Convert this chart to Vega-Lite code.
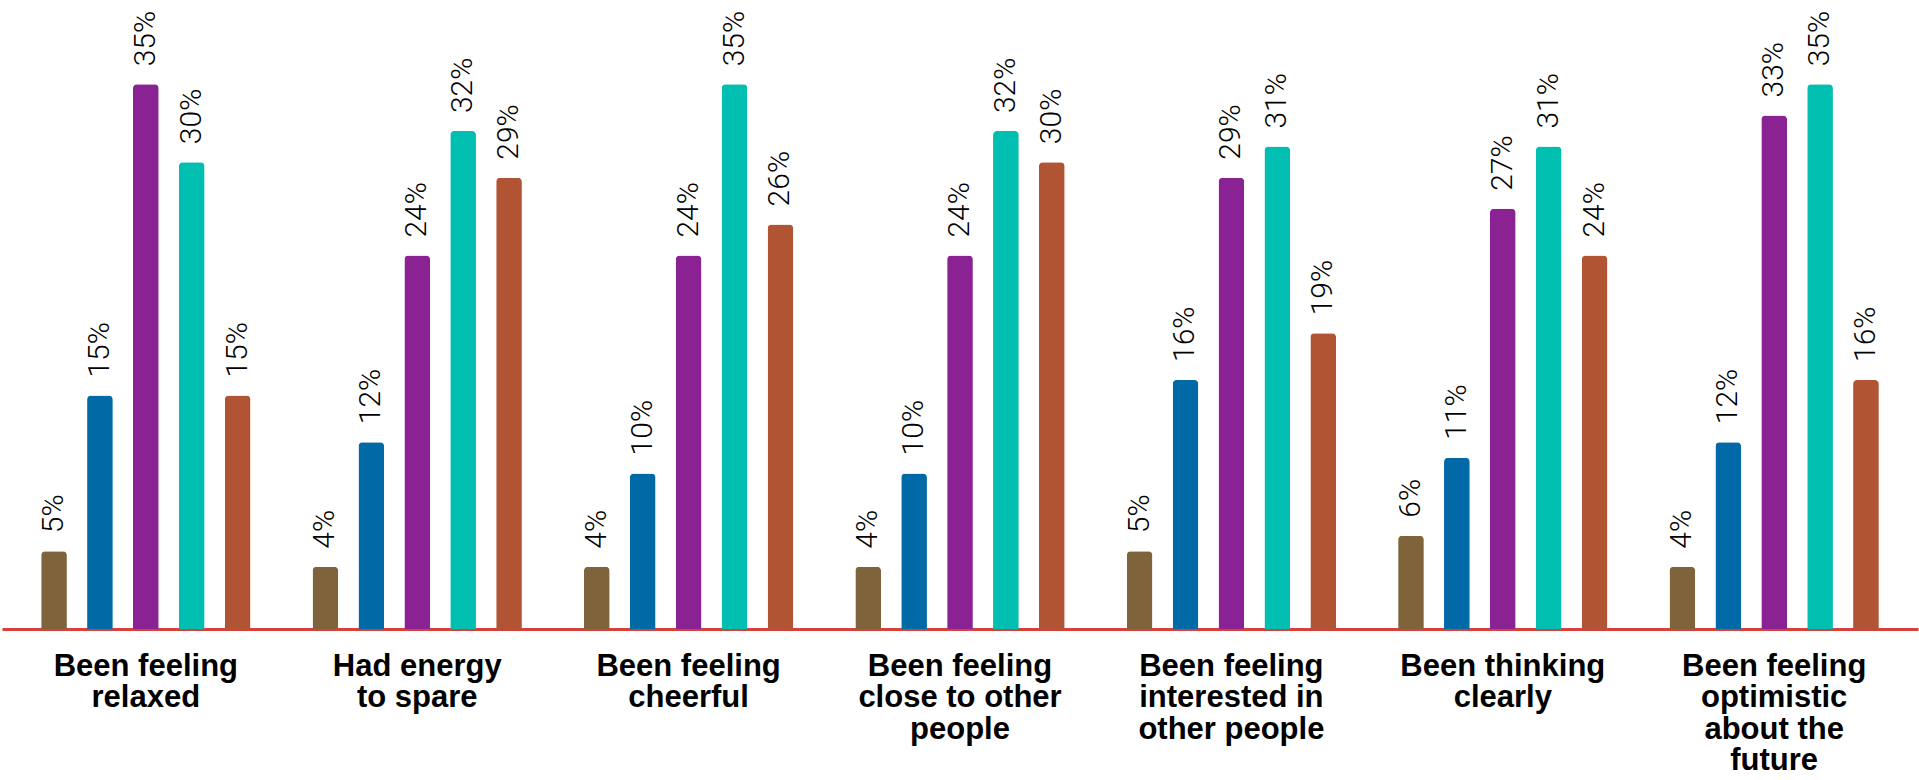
{
  "$schema": "https://vega.github.io/schema/vega-lite/v6.json",
  "width": 1916,
  "height": 629,
  "autosize": {"type": "none"},
  "padding": {"left": 2, "top": 0, "right": 1, "bottom": 151},
  "background": "white",
  "config": {"view": {"stroke": null}},
  "data": {
    "values": [
      {"item": "Been feeling|relaxed", "response": "Never", "share": 0.05},
      {"item": "Been feeling|relaxed", "response": "Rarely", "share": 0.15},
      {"item": "Been feeling|relaxed", "response": "Some of the time", "share": 0.35},
      {"item": "Been feeling|relaxed", "response": "Often", "share": 0.30},
      {"item": "Been feeling|relaxed", "response": "All of the time", "share": 0.15},
      {"item": "Had energy|to spare", "response": "Never", "share": 0.04},
      {"item": "Had energy|to spare", "response": "Rarely", "share": 0.12},
      {"item": "Had energy|to spare", "response": "Some of the time", "share": 0.24},
      {"item": "Had energy|to spare", "response": "Often", "share": 0.32},
      {"item": "Had energy|to spare", "response": "All of the time", "share": 0.29},
      {"item": "Been feeling|cheerful", "response": "Never", "share": 0.04},
      {"item": "Been feeling|cheerful", "response": "Rarely", "share": 0.10},
      {"item": "Been feeling|cheerful", "response": "Some of the time", "share": 0.24},
      {"item": "Been feeling|cheerful", "response": "Often", "share": 0.35},
      {"item": "Been feeling|cheerful", "response": "All of the time", "share": 0.26},
      {"item": "Been feeling|close to other|people", "response": "Never", "share": 0.04},
      {"item": "Been feeling|close to other|people", "response": "Rarely", "share": 0.10},
      {"item": "Been feeling|close to other|people", "response": "Some of the time", "share": 0.24},
      {"item": "Been feeling|close to other|people", "response": "Often", "share": 0.32},
      {"item": "Been feeling|close to other|people", "response": "All of the time", "share": 0.30},
      {"item": "Been feeling|interested in|other people", "response": "Never", "share": 0.05},
      {"item": "Been feeling|interested in|other people", "response": "Rarely", "share": 0.16},
      {"item": "Been feeling|interested in|other people", "response": "Some of the time", "share": 0.29},
      {"item": "Been feeling|interested in|other people", "response": "Often", "share": 0.31},
      {"item": "Been feeling|interested in|other people", "response": "All of the time", "share": 0.19},
      {"item": "Been thinking|clearly", "response": "Never", "share": 0.06},
      {"item": "Been thinking|clearly", "response": "Rarely", "share": 0.11},
      {"item": "Been thinking|clearly", "response": "Some of the time", "share": 0.27},
      {"item": "Been thinking|clearly", "response": "Often", "share": 0.31},
      {"item": "Been thinking|clearly", "response": "All of the time", "share": 0.24},
      {"item": "Been feeling|optimistic|about the|future", "response": "Never", "share": 0.04},
      {"item": "Been feeling|optimistic|about the|future", "response": "Rarely", "share": 0.12},
      {"item": "Been feeling|optimistic|about the|future", "response": "Some of the time", "share": 0.33},
      {"item": "Been feeling|optimistic|about the|future", "response": "Often", "share": 0.35},
      {"item": "Been feeling|optimistic|about the|future", "response": "All of the time", "share": 0.16}
    ]
  },
  "encoding": {
    "x": {
      "field": "item",
      "type": "nominal",
      "sort": null,
      "scale": {"paddingInner": 0, "paddingOuter": 0.03},
      "axis": {
        "title": null,
        "labelAngle": 0,
        "labelExpr": "split(datum.value, '|')",
        "labelFont": "Liberation Sans",
        "labelFontWeight": "bold",
        "labelFontSize": 31,
        "labelLineHeight": 31.5,
        "labelColor": "#000000",
        "labelPadding": 22,
        "labelLimit": 400,
        "ticks": false,
        "domainColor": "#d8413b",
        "domainWidth": 3,
        "domainOpacity": 1
      }
    },
    "xOffset": {
      "field": "response",
      "type": "nominal",
      "sort": null,
      "scale": {"paddingInner": 0.44, "paddingOuter": 0.676}
    },
    "y": {
      "field": "share",
      "type": "quantitative",
      "scale": {"domain": [0, 0.4042], "nice": false},
      "axis": null
    }
  },
  "layer": [
    {
      "mark": {"type": "bar", "cornerRadiusTopLeft": 4, "cornerRadiusTopRight": 4},
      "encoding": {
        "color": {
          "field": "response",
          "type": "nominal",
          "sort": null,
          "scale": {
            "domain": ["Never", "Rarely", "Some of the time", "Often", "All of the time"],
            "range": ["#7f633b", "#016aa6", "#8b2293", "#00bfb0", "#b15434"]
          },
          "legend": null
        }
      }
    },
    {
      "mark": {
        "type": "text",
        "angle": 270,
        "align": "left",
        "baseline": "middle",
        "dx": 18,
        "font": "Roboto",
        "fontWeight": 300,
        "fontSize": 30,
        "color": "#000000"
      },
      "encoding": {
        "text": {"field": "share", "type": "quantitative", "format": ".0%"}
      }
    }
  ]
}
